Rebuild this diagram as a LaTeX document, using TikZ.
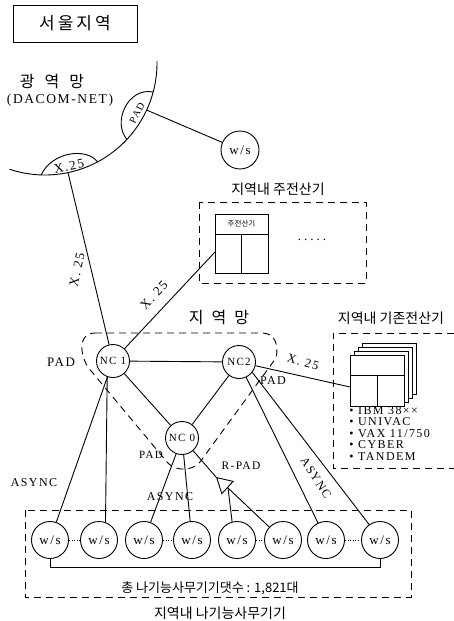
\documentclass[tikz,border=0pt]{standalone}
\usepackage{fontspec}
\setmainfont{Liberation Serif}
\newfontfamily\wide[LetterSpace=12]{Liberation Serif}
\newfontfamily\kr{Noto Sans CJK KR}
\usetikzlibrary{arrows.meta}
\begin{document}
\begin{tikzpicture}[x=1pt,y=-1pt,line width=0.9pt,
  every node/.style={inner sep=0pt},
  nc/.style={circle,draw,minimum size=33pt,font=\wide\fontsize{11}{11}\selectfont},
  ws/.style={circle,draw,minimum size=37pt,font=\wide\fontsize{13}{13}\selectfont},
  dbox/.style={dash pattern=on 7pt off 5pt},
  lab/.style={font=\wide\fontsize{12}{12}\selectfont},
  krl/.style={font=\kr\fontsize{14}{14}\selectfont},
  dots/.style={dash pattern=on 1pt off 1.6pt}]
\useasboundingbox (0,0) rectangle (454,621);

% title
\node[draw,minimum width=124pt,minimum height=37pt,font=\kr\fontsize{17}{17}\selectfont] (title) at (75,23.5) {서\hspace{3pt}울\hspace{3pt}지\hspace{3pt}역};

% wide-area network
\node[font=\kr\fontsize{16}{16}\selectfont] (wan) at (52,82) {광\hspace{10pt}역\hspace{10pt}망};
\node[font=\wide\fontsize{13.5}{13.5}\selectfont] (dacom) at (60,100) {(DACOM-NET)};
\draw[domain=-1:108.5,samples=90,smooth] plot ({45+112*cos(\x)},{63+112*sin(\x)});
\coordinate (padA) at (153.2,92);
\coordinate (padB) at (126.9,139.4);
\draw (padA) .. controls (128,87) and (112,122) .. (padB);
\node[font=\wide\fontsize{10}{10}\selectfont,rotate=62] (padw) at (137,113) {PAD};
\coordinate (x25A) at (97.6,161.9);
\coordinate (x25B) at (41.1,174.9);
\draw (x25A) .. controls (86,147) and (52,152) .. (x25B);
\node[font=\wide\fontsize{13}{13}\selectfont,rotate=12] (x25w) at (69,166) {X.25};
\coordinate (padc) at (146.5,110);
\coordinate (x25c) at (68,172.6);

\node[ws,minimum size=38pt] (wsT) at (240,150) {w/s};
\draw (padc) -- (wsT);

% main computers
\node[krl] (mainlbl) at (278,189) {지역내 주전산기};
\draw[dbox] (199,202) rectangle (366,283);
\node[draw,minimum width=53pt,minimum height=59pt,anchor=north west] (mc) at (215,214) {};
\draw (215,234) -- (268,234);
\draw (241.5,234) -- (241.5,273);
\node[font=\kr\fontsize{7.5}{7.5}\selectfont] (mch) at (241.5,224) {주전산기};
\node[font=\fontsize{13}{13}\selectfont] (mdots) at (312,240) {.\hspace{3pt}.\hspace{3pt}.\hspace{3pt}.\hspace{3pt}.};
\coordinate (mcin) at (215,252);

% regional network
\node[font=\kr\fontsize{16}{16}\selectfont] (lan) at (219,318) {지\hspace{8pt}역\hspace{8pt}망};
\draw[dbox] (95,333) -- (262,333) .. controls (275,333) and (279,345) .. (276,358)
  -- (200,462) .. controls (193,471) and (175,472) .. (167,462)
  -- (92,372) .. controls (80,360) and (76,333) .. (95,333) -- cycle;

\node[nc,fill=white] (nc1) at (113,361) {NC 1};
\node[nc,fill=white] (nc2) at (239,362) {NC2};
\node[nc,fill=white] (nc0) at (182,438) {NC 0};
\draw (nc1) -- (nc2);
\draw (nc1) -- (nc0);
\draw (nc2) -- (nc0);

\draw (x25c) -- (nc1);
\node[lab,font=\wide\fontsize{13}{13}\selectfont,rotate=77] (l1) at (77,270) {X. 25};
\draw (nc1) -- (mcin);
\node[lab,font=\wide\fontsize{13}{13}\selectfont,rotate=47] (l2) at (154,295) {X. 25};

\node[lab,font=\wide\fontsize{13}{13}\selectfont] (pad1) at (61,362) {PAD};
\node[lab] (pad2) at (273,381) {PAD};
\node[lab,font=\wide\fontsize{11}{11}\selectfont] (pad0) at (151,455) {PAD};

% existing computers
\node[krl] (exlbl) at (391,318) {지역내 기존전산기};
\draw[dbox] (454,333) -- (333,333) -- (333,468) -- (454,468);
\foreach \k in {3,2,1} {
  \draw[fill=white] (350+4*\k,355-4*\k) rectangle (404+4*\k,406-4*\k);
}
\node[draw,fill=white,minimum width=54pt,minimum height=51pt,anchor=north west] (ec) at (350,355) {};
\draw (350,375) -- (404,375);
\draw (377,375) -- (377,406);
\coordinate (ecin) at (350,387);
\draw (nc2) -- (ecin);
\node[lab,font=\wide\fontsize{12.5}{12.5}\selectfont,rotate=-17] (l3) at (303,362) {X. 25};
\node[anchor=north west,align=left,font=\wide\fontsize{12}{11.5}\selectfont] (list) at (349,406)
  {• IBM 38××\\• UNIVAC\\• VAX 11/750\\• CYBER\\• TANDEM};

% workstations
\draw[dbox] (25,510) rectangle (411,597);
\foreach \i/\x in {1/50,2/99,3/144,4/192,5/237,6/283,7/326,8/380} {
  \node[ws] (ws\i) at (\x,540) {w/s};
}
\draw[dots] (ws1) -- (ws2);
\draw[dots] (ws3) -- (ws4);
\draw[dots] (ws5) -- (ws6);
\draw[dots] (ws7) -- (ws8);
\coordinate (brk) at (0,567);
\draw (ws1.south) -- (ws1.south |- brk) -- (ws8.south |- brk) -- (ws8.south);
\node[font=\kr\fontsize{13}{13}\selectfont] (total) at (210,588) {총 나기능사무기기댓수 : 1,821대};
\node[krl] (wslbl) at (220,613) {지역내 나기능사무기기};

\draw (nc1) -- (ws1);
\draw (nc1.250) -- (ws2.70);
\node[lab] (as1) at (34,483) {ASYNC};
\draw (nc0) -- (ws3);
\draw (nc0) -- (ws4);
\node[lab] (as2) at (170,497) {ASYNC};

\coordinate (rtip) at (216,477);
\coordinate (rbase) at (228,488);
\draw[-{Triangle[open,length=16pt,width=18pt]}] (rbase) -- (rtip);
\draw (rtip) -- (nc0);
\draw (ws6) -- (rbase);
\draw (ws5.105) -- (rbase);
\node[lab,font=\wide\fontsize{11.5}{11.5}\selectfont] (rpad) at (241,466) {R-PAD};

\draw (nc2.-65) -- (ws7.115);
\draw (nc2.-38) -- (ws8.125);
\node[lab,rotate=-57] (as3) at (316,478) {ASYNC};
\end{tikzpicture}
\end{document}
